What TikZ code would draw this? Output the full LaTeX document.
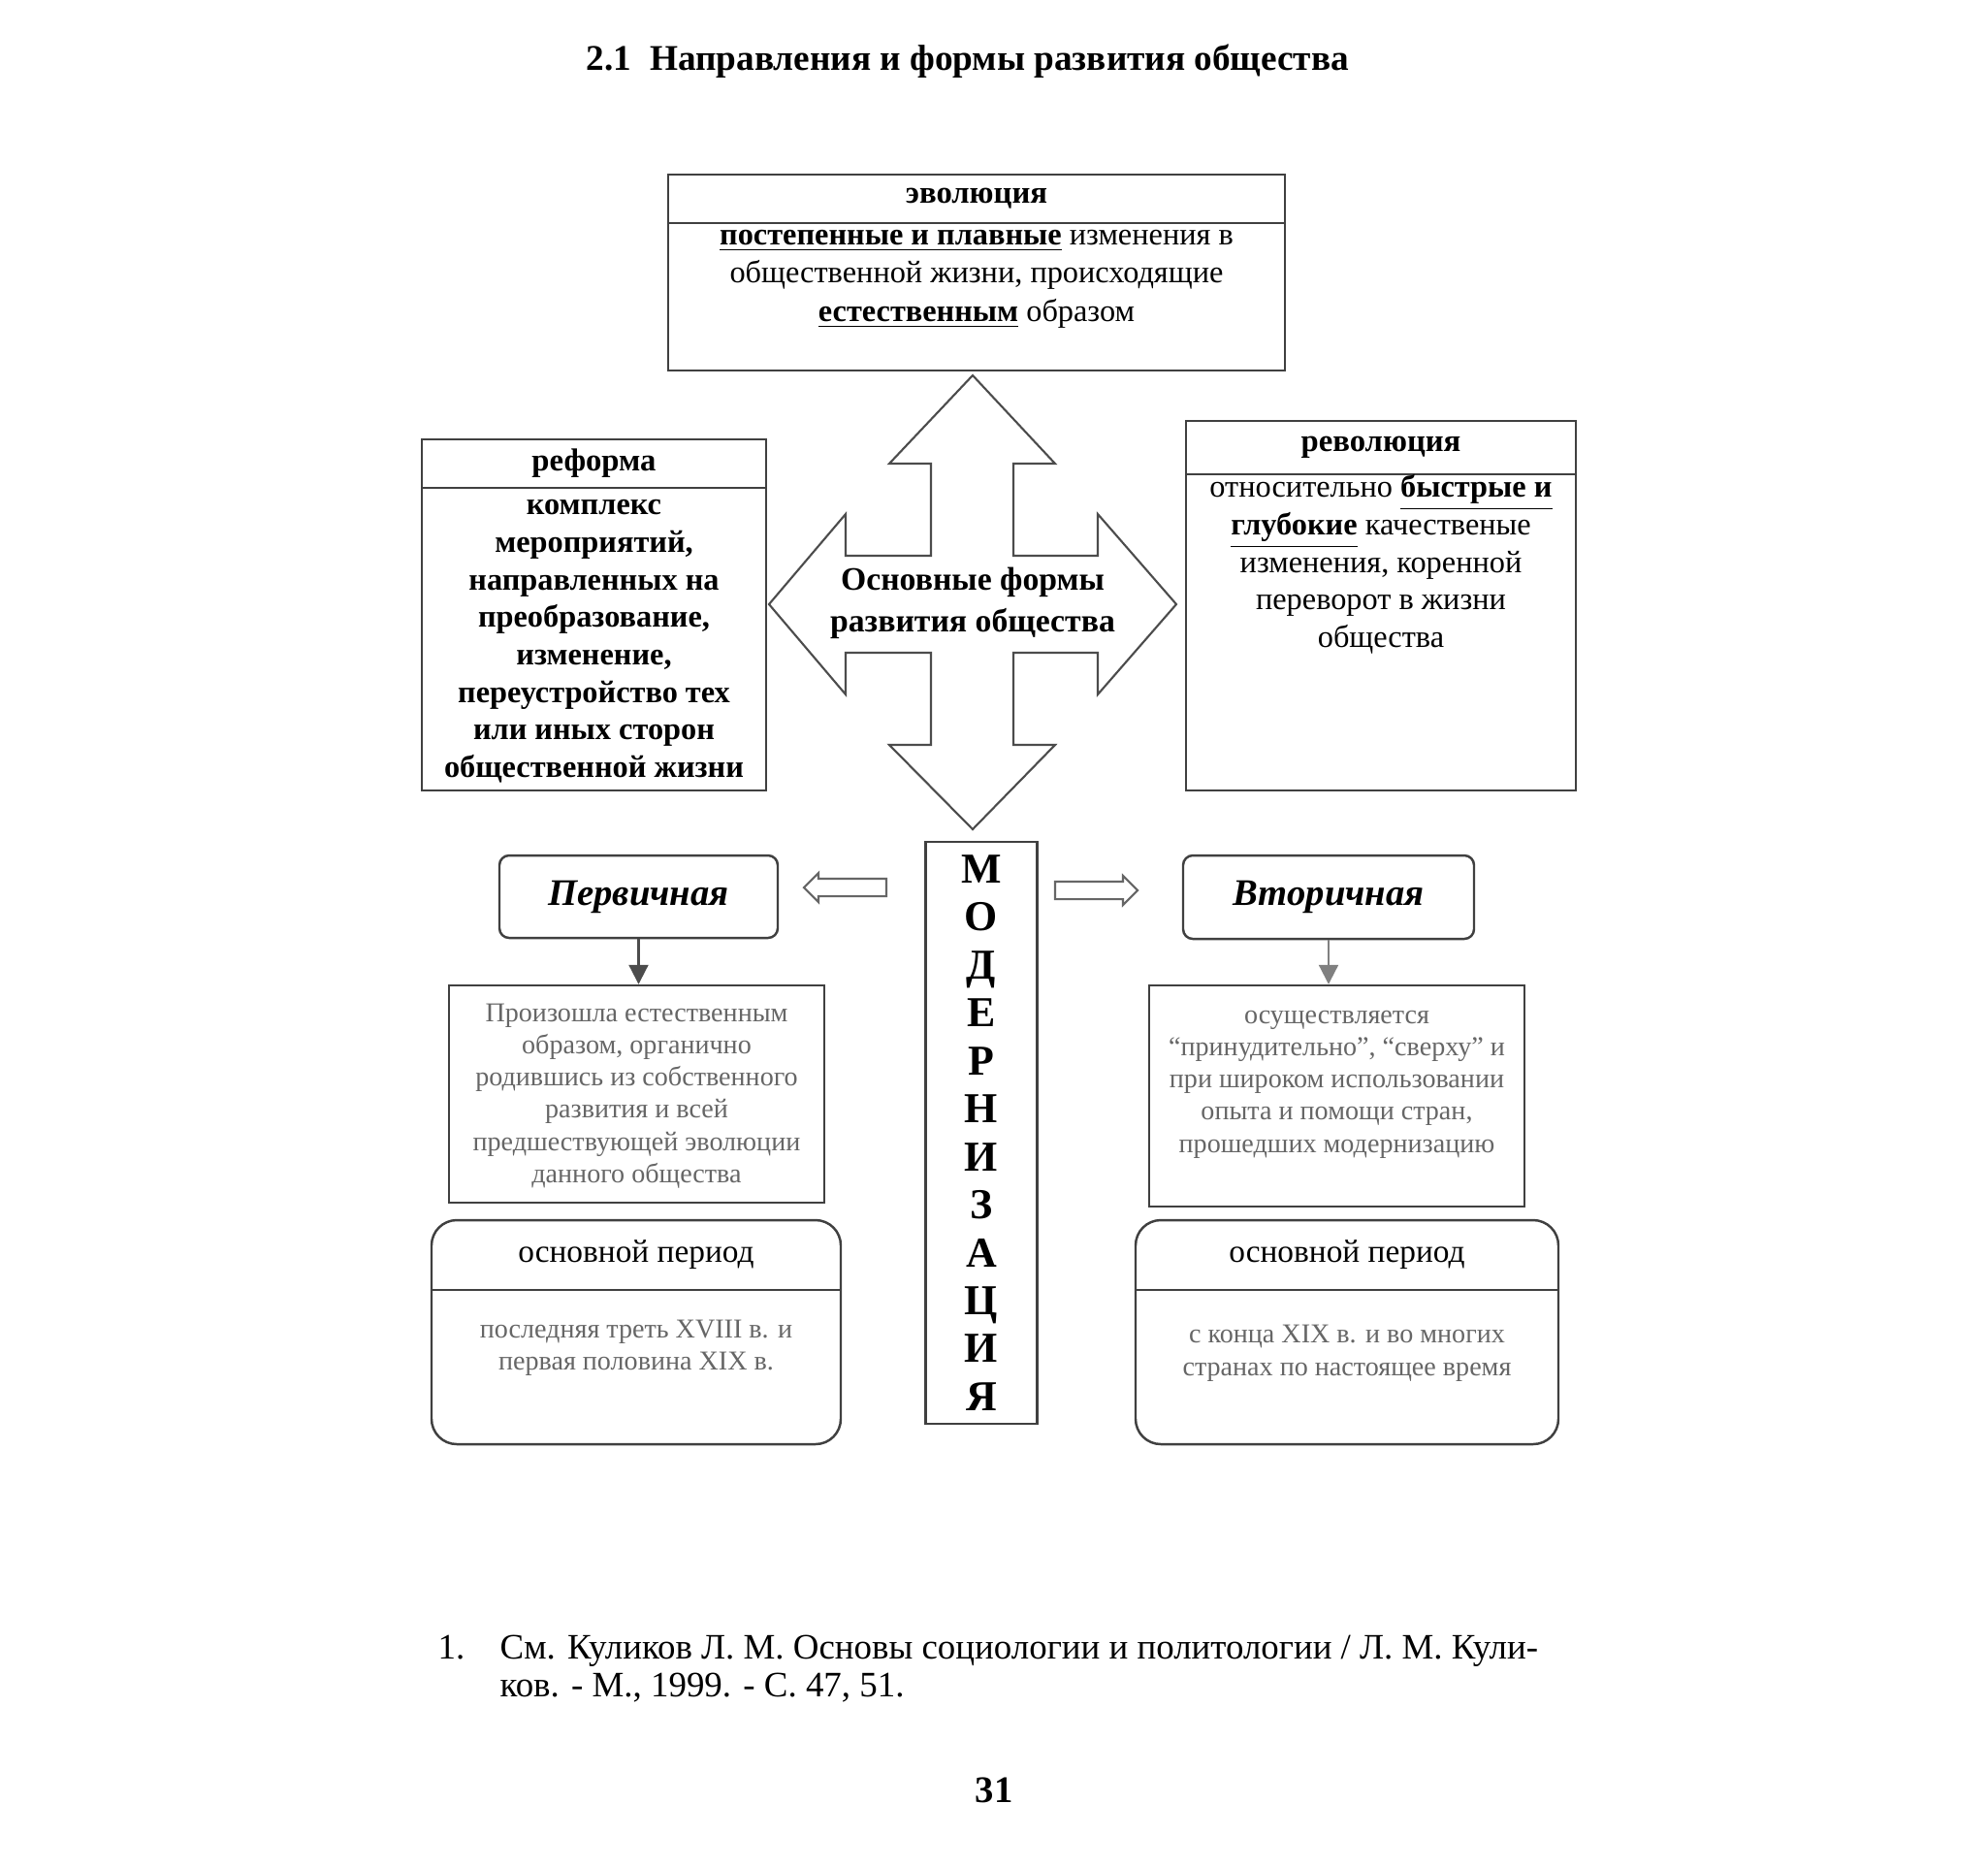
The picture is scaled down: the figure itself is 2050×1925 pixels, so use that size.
\documentclass[tikz,border=0pt]{standalone}
\usepackage{fontspec}
\setmainfont{Liberation Serif}
\usetikzlibrary{shapes.arrows,arrows.meta}

\begin{document}
\begin{tikzpicture}[x=0.1mm, y=-0.1mm,
  formbox/.style={draw=black!75, line width=0.7pt, inner sep=0pt},
  roundbox/.style={formbox, rounded corners=2.6mm},
  headtext/.style={font=\fontsize{9.3}{11}\selectfont\bfseries},
  bodytext/.style={align=center, inner sep=0pt, anchor=north, font=\fontsize{9.2}{11.2}\selectfont},
  smalltext/.style={bodytext, text=black!60},
  sidearrow/.style={single arrow, draw=black!60, line width=0.6pt, minimum height=8.5mm, minimum width=2.8mm, single arrow head extend=0.6mm, single arrow tip angle=90, inner sep=0.8mm}
]
\useasboundingbox (0,0) rectangle (2050,1925);

\node[font=\fontsize{10.6}{13}\selectfont\bfseries] (title) at (998,63) {2.1\enspace Направления и формы развития общества};

\node[formbox, headtext, minimum width=63.6mm, minimum height=5mm] (evolhead) at (1007,205) {эволюция};
\node[formbox, minimum width=63.6mm, minimum height=15.2mm] (evolbody) at (1007,306) {};
\node[bodytext] (evoltext) at (1007,224) {\strut\underline{\textbf{постепенные и плавные}} изменения в\\общественной жизни, происходящие\\\underline{\textbf{естественным}} образом};

\node[formbox, headtext, minimum width=35.5mm, minimum height=5mm] (reformhead) at (612.5,478) {реформа};
\node[formbox, minimum width=35.5mm, minimum height=31.2mm] (reformbody) at (612.5,659) {};
\node[bodytext, font=\fontsize{9.2}{11}\selectfont\bfseries] (reformtext) at (612.5,503) {\strut комплекс\\мероприятий,\\направленных на\\преобразование,\\изменение,\\переустройство тех\\или иных сторон\\общественной жизни};

\node[formbox, headtext, minimum width=40.2mm, minimum height=5.5mm] (revolhead) at (1424,461.5) {революция};
\node[formbox, minimum width=40.2mm, minimum height=32.6mm] (revolbody) at (1424,652) {};
\node[bodytext, font=\fontsize{9.2}{11}\selectfont] (revoltext) at (1424,485) {\strut относительно \underline{\textbf{быстрые и}}\\\underline{\textbf{глубокие}} качественые\\изменения, коренной\\переворот в жизни\\общества};

\draw[draw=black!70, line width=0.6pt] (1003,387) -- (1088,478) -- (1045,478) -- (1045,573) -- (1132,573) -- (1132,530) -- (1213,623) -- (1132,716) -- (1132,673) -- (1045,673) -- (1045,768) -- (1088,768) -- (1003,855) -- (917,768) -- (960,768) -- (960,673) -- (872,673) -- (872,716) -- (793,623) -- (872,530) -- (872,573) -- (960,573) -- (960,478) -- (917,478) -- cycle;
\node[bodytext, font=\fontsize{9.6}{12.2}\selectfont\bfseries] (formstext) at (1003,578) {\strut Основные формы\\развития общества};

\node[formbox, align=center, minimum width=11.5mm, minimum height=60mm, font=\fontsize{12.5}{14.07}\selectfont\bfseries] (modern) at (1012,1168) {М\\О\\Д\\Е\\Р\\Н\\И\\З\\А\\Ц\\И\\Я};

\node[sidearrow, shape border rotate=180] (leftarrow) at (876,915) {};
\node[sidearrow] (rightarrow) at (1126,918) {};

\node[formbox, rounded corners=1mm, minimum width=28.7mm, minimum height=8.5mm, font=\fontsize{11}{13}\selectfont\bfseries\itshape] (perv) at (658.5,924.5) {Первичная};
\node[formbox, rounded corners=1mm, minimum width=30mm, minimum height=8.6mm, font=\fontsize{11}{13}\selectfont\bfseries\itshape] (vtor) at (1370,925) {Вторичная};

\node[formbox, minimum width=38.7mm, minimum height=22.4mm] (pervbody) at (656.5,1128) {};
\node[smalltext, font=\fontsize{8}{9.4}\selectfont] (pervtext) at (656.5,1030) {\strut Произошла естественным\\образом, органично\\родившись из собственного\\развития и всей\\предшествующей эволюции\\данного общества};
\node[formbox, minimum width=38.7mm, minimum height=22.8mm] (vtorbody) at (1378.5,1130) {};
\node[smalltext, font=\fontsize{8}{9.4}\selectfont] (vtortext) at (1378.5,1032) {\strut осуществляется\\“принудительно”, “сверху” и\\при широком использовании\\опыта и помощи стран,\\прошедших модернизацию};

\draw[draw=black!70, line width=0.6pt, -{Triangle[length=2mm, width=2mm]}] (perv.south) -- (perv.south |- pervbody.north);
\draw[draw=black!50, line width=0.6pt, -{Triangle[length=2mm, width=2mm]}] (vtor.south) -- (vtor.south |- vtorbody.north);

\node[roundbox, minimum width=42.2mm, minimum height=23.1mm] (lperiod) at (656,1373.5) {};
\node[anchor=north, minimum width=42.2mm, minimum height=7.2mm, inner sep=0pt, font=\fontsize{9.5}{12}\selectfont] (lperhead) at (lperiod.north) {основной период};
\draw[draw=black!75, line width=0.7pt] (lperhead.south west) -- (lperhead.south east);
\node[smalltext, font=\fontsize{8}{9.4}\selectfont] (lpertext) at (656,1356) {\strut последняя треть XVIII в. и\\первая половина XIX в.};

\node[roundbox, minimum width=43.6mm, minimum height=23.1mm] (rperiod) at (1389,1373.5) {};
\node[anchor=north, minimum width=43.6mm, minimum height=7.2mm, inner sep=0pt, font=\fontsize{9.5}{12}\selectfont] (rperhead) at (rperiod.north) {основной период};
\draw[draw=black!75, line width=0.7pt] (rperhead.south west) -- (rperhead.south east);
\node[smalltext, font=\fontsize{8}{9.9}\selectfont] (rpertext) at (1389,1359) {\strut с конца XIX в. и во многих\\странах по настоящее время};

\node[anchor=north west, inner sep=0pt, font=\fontsize{10.5}{11.1}\selectfont] (fnnum) at (451,1682) {\strut 1.};
\node[anchor=north west, align=left, inner sep=0pt, font=\fontsize{10.5}{11.1}\selectfont] (fntext) at (515,1682) {\strut См. Куликов Л. М. Основы социологии и политологии / Л. М. Кули-\\ков. - М., 1999. - С. 47, 51.};

\node[font=\fontsize{11}{13}\selectfont\bfseries] (pagenum) at (1025,1846) {31};
\end{tikzpicture}
\end{document}
